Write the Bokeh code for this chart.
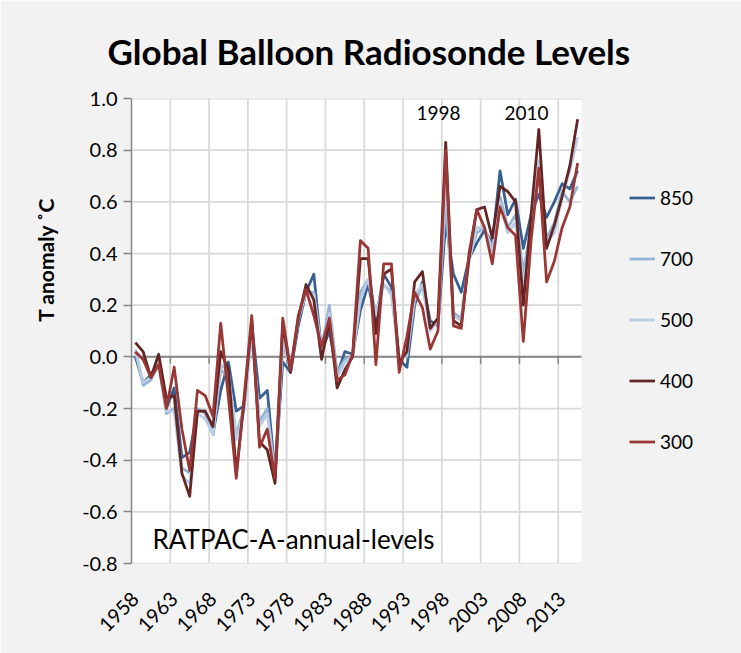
import math
from bokeh.plotting import figure
from bokeh.models import (Range1d, FixedTicker, Label, Legend, LegendItem,
                          PrintfTickFormatter, Title, BoxAnnotation)
from bokeh.embed import file_html
from bokeh.resources import INLINE

years = list(range(1958, 2016))

t850 = [0.00, -0.10, -0.07, -0.02, -0.20, -0.12, -0.39, -0.37, -0.21, -0.21,
        -0.30, -0.13, -0.02, -0.21, -0.19, 0.13, -0.16, -0.13, -0.45, -0.02,
        -0.06, 0.12, 0.25, 0.32, 0.02, 0.10, -0.07, 0.02, 0.01, 0.18,
        0.28, 0.14, 0.32, 0.27, -0.01, -0.04, 0.20, 0.29, 0.14, 0.12,
        0.52, 0.32, 0.25, 0.38, 0.44, 0.49, 0.44, 0.72, 0.55, 0.61,
        0.42, 0.55, 0.63, 0.54, 0.60, 0.67, 0.65, 0.72]

t700 = [0.02, -0.11, -0.09, -0.03, -0.22, -0.20, -0.43, -0.45, -0.20, -0.22,
        -0.30, -0.05, -0.08, -0.30, -0.20, 0.09, -0.25, -0.20, -0.46, 0.05,
        -0.05, 0.14, 0.25, 0.25, 0.03, 0.20, -0.06, -0.01, 0.00, 0.25,
        0.30, 0.17, 0.28, 0.25, 0.00, 0.00, 0.22, 0.27, 0.12, 0.13,
        0.60, 0.17, 0.15, 0.38, 0.48, 0.50, 0.42, 0.62, 0.50, 0.55,
        0.33, 0.50, 0.70, 0.46, 0.52, 0.64, 0.60, 0.66]

t500 = [0.03, -0.10, -0.08, -0.02, -0.21, -0.21, -0.46, -0.49, -0.22, -0.24,
        -0.30, -0.03, -0.06, -0.32, -0.21, 0.10, -0.27, -0.22, -0.47, 0.07,
        -0.05, 0.15, 0.25, 0.24, 0.02, 0.17, -0.08, -0.02, 0.00, 0.22,
        0.30, 0.16, 0.28, 0.24, -0.01, 0.01, 0.24, 0.28, 0.10, 0.14,
        0.68, 0.16, 0.14, 0.37, 0.50, 0.50, 0.40, 0.60, 0.48, 0.52,
        0.28, 0.48, 0.76, 0.44, 0.48, 0.62, 0.72, 0.85]

t400 = [0.055, 0.02, -0.08, 0.01, -0.16, -0.15, -0.45, -0.54, -0.21, -0.21,
        -0.27, 0.02, -0.05, -0.45, -0.18, 0.14, -0.33, -0.36, -0.49, 0.13,
        -0.06, 0.15, 0.28, 0.22, -0.01, 0.14, -0.12, -0.05, 0.00, 0.38,
        0.38, 0.09, 0.32, 0.34, -0.02, 0.02, 0.29, 0.33, 0.11, 0.15,
        0.83, 0.14, 0.12, 0.38, 0.57, 0.58, 0.46, 0.66, 0.64, 0.60,
        0.20, 0.55, 0.88, 0.42, 0.51, 0.62, 0.74, 0.92]

t300 = [0.02, -0.01, -0.08, -0.03, -0.20, -0.04, -0.28, -0.44, -0.13, -0.15,
        -0.23, 0.13, -0.16, -0.47, -0.16, 0.16, -0.35, -0.28, -0.47, 0.15,
        -0.05, 0.16, 0.26, 0.16, 0.04, 0.15, -0.09, -0.07, 0.01, 0.45,
        0.42, -0.03, 0.36, 0.36, -0.06, 0.08, 0.25, 0.19, 0.03, 0.10,
        0.80, 0.12, 0.11, 0.40, 0.57, 0.50, 0.36, 0.58, 0.50, 0.47,
        0.06, 0.45, 0.73, 0.29, 0.37, 0.50, 0.58, 0.75]

series_names = ["850", "700", "500", "400", "300"]
series_vals = [t850, t700, t500, t400, t300]
series_colors = ["#366092", "#95B3D7", "#B8CCE4", "#632523", "#9A3634"]

tick_years = [1958, 1963, 1968, 1973, 1978, 1983, 1988, 1993, 1998, 2003, 2008, 2013]
y_ticks = [-0.8, -0.6, -0.4, -0.2, 0.0, 0.2, 0.4, 0.6, 0.8, 1.0]

FONT = "Lato"
GRID = "#D9D9D9"
AXIS = "#868686"
BG = "#F2F2F2"

# geometry (pixels): plot area is 450 px wide; frame runs on to the right edge
W, H = 741, 653
LEFT, TOP, BOTTOM = 131, 97, 90
PLOT_W = 450
FRAME_W = W - LEFT

x_start = years[0] - 0.5
x_plot_end = years[-1] + 0.5
x_frame_end = x_start + (x_plot_end - x_start) * FRAME_W / PLOT_W

# category boundaries every 5 categories (Excel-style gridlines between categories)
boundaries = [y + 4.5 for y in tick_years if y + 4.5 < x_plot_end]

p = figure(width=W, height=H, output_backend="svg", toolbar_location=None,
           x_range=Range1d(x_start, x_frame_end),
           y_range=Range1d(y_ticks[0], y_ticks[-1]),
           min_border_left=LEFT, min_border_right=0,
           min_border_top=TOP, min_border_bottom=BOTTOM,
           background_fill_color=BG, border_fill_color=BG,
           outline_line_color=None)
p.xgrid.visible = False
p.ygrid.visible = False

# white plot area
p.add_layout(BoxAnnotation(left=x_start, right=x_plot_end, fill_color="white",
                           fill_alpha=1, line_color=None, level="underlay"))

# gridlines
p.segment(x0=[x_start] * len(y_ticks), x1=[x_plot_end] * len(y_ticks),
          y0=y_ticks, y1=y_ticks, line_color=GRID, line_width=1.75)
p.segment(x0=boundaries, x1=boundaries, y0=[y_ticks[0]] * len(boundaries),
          y1=[y_ticks[-1]] * len(boundaries), line_color=GRID, line_width=1.75)

# zero axis with tick marks
p.segment(x0=[x_start], x1=[x_plot_end], y0=[0], y1=[0], line_color=AXIS, line_width=2)
tick_len = 7 * (y_ticks[-1] - y_ticks[0]) / (H - TOP - BOTTOM)
p.segment(x0=boundaries, y0=[0] * len(boundaries), x1=boundaries,
          y1=[-tick_len] * len(boundaries), line_color=AXIS, line_width=1.5)

# y axis
p.yaxis.ticker = FixedTicker(ticks=y_ticks)
p.yaxis.formatter = PrintfTickFormatter(format="%.1f")
p.yaxis.axis_line_color = AXIS
p.yaxis.axis_line_width = 1.5
p.yaxis.major_tick_line_color = AXIS
p.yaxis.major_tick_line_width = 1.5
p.yaxis.major_tick_out = 8
p.yaxis.major_tick_in = 0
p.yaxis.minor_tick_line_color = None
p.yaxis.major_label_standoff = 6
p.yaxis.major_label_text_font = FONT
p.yaxis.major_label_text_font_size = "20px"
p.yaxis.major_label_text_color = "black"

# x axis
p.xaxis.ticker = FixedTicker(ticks=tick_years)
p.xaxis.axis_line_color = None
p.xaxis.major_tick_line_color = None
p.xaxis.minor_tick_line_color = None
p.xaxis.major_label_orientation = math.pi / 4
p.xaxis.major_label_standoff = 26
p.xaxis.major_label_text_font = FONT
p.xaxis.major_label_text_font_size = "20px"
p.xaxis.major_label_text_color = "black"

renderers = []
for name, vals, col in zip(series_names, series_vals, series_colors):
    r = p.line(years, vals, line_color=col, line_width=2.75, line_join="round")
    renderers.append(r)

legend = Legend(items=[LegendItem(label=n, renderers=[r]) for n, r in zip(series_names, renderers)],
                location=(498, 109), padding=0, spacing=36, margin=0,
                glyph_width=26, glyph_height=25, label_height=25, label_standoff=5,
                background_fill_alpha=0, border_line_color=None,
                label_text_font=FONT, label_text_font_size="19px",
                label_text_color="black")
p.add_layout(legend)

# title above
p.add_layout(Title(text="Global Balloon Radiosonde Levels", align="left", offset=-24,
                   text_font=FONT, text_font_size="35px", text_font_style="bold",
                   text_color="black", standoff=54), "above")

# y axis title on the left
p.add_layout(Title(text="T anomaly \u02daC", align="right", offset=99,
                   text_font=FONT, text_font_size="21px", text_font_style="bold",
                   text_color="black", standoff=43), "left")

# in-plot annotations
for txt, x, y, size in [("1998", 285, 451, "19px"), ("2010", 373, 451, "19px"),
                        ("RATPAC-A-annual-levels", 21, 25, "26px")]:
    p.add_layout(Label(x=x, y=y, x_units="screen", y_units="screen", text=txt,
                       text_font=FONT, text_font_size=size, text_align="left",
                       text_baseline="middle", text_color="black"))

open("out.html", "w").write(file_html(p, INLINE))
